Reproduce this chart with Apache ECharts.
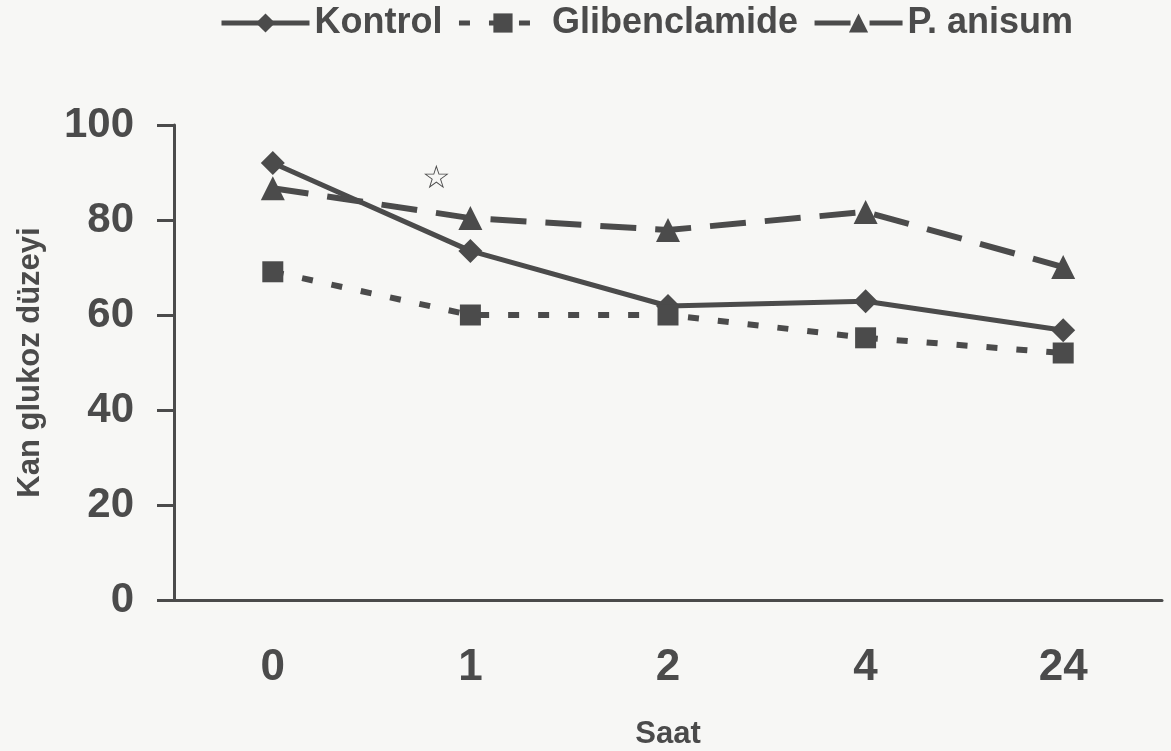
<!DOCTYPE html>
<html>
<head>
<meta charset="utf-8">
<script src="https://cdn.jsdelivr.net/npm/echarts@6/dist/echarts.min.js"></script>
<style>
  html, body { margin: 0; padding: 0; background: #f7f7f5; }
  #chart { width: 1171px; height: 751px; }
</style>
</head>
<body>
<div id="chart"></div>
<script>
// saat (x ekseni)
var categories = ['0', '1', '2', '4', '24'];
// kan glukoz düzeyi
var kontrol = [92.0, 73.5, 61.9, 62.9, 56.8];
var glibenclamide = [69.1, 60.0, 60.0, 55.2, 52.0];
var anisum = [86.7, 80.4, 77.9, 81.7, 70.1];

var ink = '#4b4b4b';
var font = 'Liberation Sans, Arial, sans-serif';

var myChart = echarts.init(document.getElementById('chart'));
myChart.setOption({
  backgroundColor: '#f7f7f5',
  textStyle: { fontFamily: font, color: ink },
  legend: {
    top: 0,
    left: 214,
    itemWidth: 88,
    itemHeight: 24,
    itemGap: 14,
    lineStyle: { width: 5 },
    textStyle: { fontSize: 36, fontWeight: 'bold', color: ink, fontFamily: font },
    data: ['Kontrol', 'Glibenclamide', 'P. anisum']
  },
  grid: { left: 174, right: 9, top: 125, bottom: 151, outerBoundsMode: 'none', containLabel: false },
  xAxis: {
    type: 'category',
    data: categories,
    boundaryGap: true,
    name: 'Saat',
    nameLocation: 'middle',
    nameGap: 119,
    nameTextStyle: { fontSize: 31, fontWeight: 'bold', color: ink },
    axisLine: { lineStyle: { color: ink, width: 3 } },
    axisTick: { length: 13, lineStyle: { color: ink, width: 3 } },
    axisLabel: { fontSize: 44, fontWeight: 'bold', color: ink, margin: 46 }
  },
  yAxis: {
    type: 'value',
    min: 0,
    max: 100,
    interval: 20,
    name: 'Kan glukoz düzeyi',
    nameLocation: 'middle',
    nameGap: 128,
    nameRotate: 90,
    nameTextStyle: { fontSize: 31, fontWeight: 'bold', color: ink },
    splitLine: { show: false },
    axisLine: { show: true, lineStyle: { color: ink, width: 3 } },
    axisTick: { show: true, length: 17, lineStyle: { color: ink, width: 3 } },
    axisLabel: { fontSize: 42, fontWeight: 'bold', color: ink, margin: 40 }
  },
  graphic: [{
    type: 'text',
    left: 422,
    top: 163,
    style: { text: '☆', fontSize: 32, fill: ink, font: '32px DejaVu Sans' }
  }],
  series: [
    {
      name: 'Kontrol',
      type: 'line',
      data: kontrol,
      symbol: 'diamond',
      symbolSize: 24,
      itemStyle: { color: ink },
      lineStyle: { color: ink, width: 5 }
    },
    {
      name: 'Glibenclamide',
      type: 'line',
      data: glibenclamide,
      symbol: 'rect',
      symbolSize: 21,
      itemStyle: { color: ink },
      lineStyle: { color: ink, width: 6, type: [11, 19] }
    },
    {
      name: 'P. anisum',
      type: 'line',
      data: anisum,
      symbol: 'triangle',
      symbolSize: 24,
      itemStyle: { color: ink },
      lineStyle: { color: ink, width: 6, type: [36, 19] }
    }
  ]
});
</script>
</body>
</html>
